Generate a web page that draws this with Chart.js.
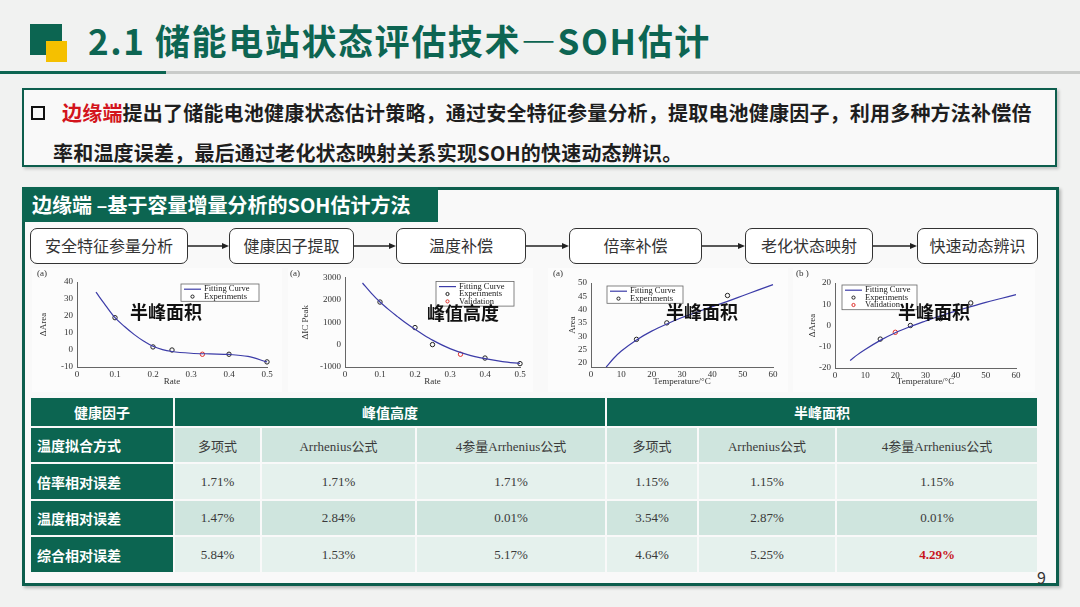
<!DOCTYPE html>
<html lang="zh-CN">
<head>
<meta charset="utf-8">
<title>2.1 储能电站状态评估技术—SOH估计</title>
<script src="https://cdn.jsdelivr.net/npm/chart.js@4.4.1/dist/chart.umd.min.js"></script>
<style>
  html, body { margin: 0; padding: 0; }
  body {
    width: 1080px; height: 607px; position: relative; overflow: hidden;
    background: #f1f2f1;
    font-family: "Noto Sans CJK SC", "Noto Sans", sans-serif;
  }
  .abs { position: absolute; }
  .title { left: 88px; top: 18px; font-size: 35px; line-height: 44px; font-weight: 700; color: #0d6552; white-space: nowrap; letter-spacing: 1.6px; }
  .textbox { left: 22px; top: 88px; width: 1031px; height: 75px; border: 2px solid #0d5e4d; background: rgba(255,255,255,0.55); box-shadow: 2px 2px 3px rgba(0,0,0,0.2); }
  .line { font-size: 20px; font-weight: 700; color: #1e1e1e; white-space: nowrap; line-height: 26px; letter-spacing: 0.2px; }
  .mainbox { left: 22px; top: 187px; width: 1031px; height: 393px; border: 3px solid #0d5e4d; background: rgba(255,255,255,0.55); box-shadow: 2px 2px 3px rgba(0,0,0,0.25); }
  .tag { left: 22px; top: 187px; width: 416px; height: 35px; background: #0c6551; color: #fff; font-size: 20px; font-weight: 700; line-height: 35px; padding-left: 10px; box-sizing: border-box; white-space: nowrap; }
  .step { top: 228px; height: 36px; border: 1.4px solid #333; border-radius: 7px; background: #fff; box-sizing: border-box; font-size: 16px; color: #333; text-align: center; line-height: 33px; }
  .panel { top: 268px; height: 124px; background: #fcfcfc; }
  .panel canvas { display: block; }
  .ptag { font-family: "Liberation Serif", serif; font-size: 9px; color: #333; }
  .plabel { font-size: 18px; font-weight: 700; color: #111; transform: translate(-50%, -50%); white-space: nowrap; }
  table.t { position: absolute; left: 29px; top: 396px; border-collapse: separate; border-spacing: 2px; table-layout: fixed; }
  table.t td { padding: 0; text-align: center; font-family: "Liberation Serif", "Noto Sans CJK SC", serif; font-size: 13px; color: #3a3a3a; }
  table.t tr.h td { background: #0c6551; color: #fff; font-family: "Noto Sans CJK SC", sans-serif; font-weight: 700; font-size: 14px; height: 28px; }
  table.t tr.a td { background: #cfe5de; height: 34px; }
  table.t tr.b td { background: #e5f1ed; height: 35px; }
  table.t tr td.k { background: #0c6551; color: #fff; font-family: "Noto Sans CJK SC", sans-serif; font-weight: 700; font-size: 14px; text-align: left; padding-left: 6px; }
  table.t tr td.red { color: #c8141c; font-weight: 700; }
  .zh { font-family: "Noto Sans CJK SC", sans-serif; }
</style>
</head>
<body>
<script>
// ---- data ----
// (a) half-peak area vs. discharge rate
const rateCurveX = [0.05, 0.075, 0.1, 0.125, 0.15, 0.175, 0.2, 0.225, 0.25, 0.3, 0.35, 0.4, 0.45, 0.5];
const areaRateCurve = [34, 26.3, 19, 13.8, 9.2, 5.3, 2.2, 0.2, -0.9, -1.9, -2.3, -2.6, -3.8, -7];
const areaRateExpX = [0.1, 0.2, 0.25, 0.4, 0.5];
const areaRateExp = [19, 1.8, 0, -2.5, -7];
const areaRateValX = [0.33];
const areaRateVal = [-2.5];

// (a) IC peak height vs. discharge rate
const peakRateCurve = [2750, 2300, 1900, 1560, 1250, 950, 680, 430, 200, -180, -450, -630, -760, -840];
const peakRateExpX = [0.1, 0.2, 0.25, 0.4, 0.5];
const peakRateExp = [1900, 760, 0, -600, -850];
const peakRateValX = [0.33];
const peakRateVal = [-430];

// (a) half-peak area vs. temperature
const tempCurveX = [5, 7.5, 10, 15, 20, 25, 30, 35, 40, 45, 50, 55, 60];
const areaTempCurve = [18.4, 21.7, 24.4, 28.6, 31.9, 34.6, 37.0, 39.1, 41.1, 43.1, 45.2, 47.3, 49.4];
const areaTempExpX = [15, 25, 45];
const areaTempExp = [28.8, 35, 45.3];

// (b) delta area vs. temperature
const dAreaTempCurve = [-16.5, -13.7, -11.3, -7.0, -3.4, -0.5, 2.1, 4.6, 6.8, 8.9, 10.9, 12.7, 14.5];
const dAreaTempExpX = [15, 25, 35, 45];
const dAreaTempExp = [-6.4, 0, 3.2, 10.6];
const dAreaTempValX = [20];
const dAreaTempVal = [-3.2];

// tick labels
const rateTicks = [0, 0.1, 0.2, 0.3, 0.4, 0.5];
const tempTicks = [0, 10, 20, 30, 40, 50, 60];
const areaRateTicks = [-10, 0, 10, 20, 30, 40];
const peakRateTicks = [-1000, 0, 1000, 2000, 3000];
const areaTempTicks = [20, 25, 30, 35, 40, 45, 50];
const dAreaTempTicks = [-20, -10, 0, 10, 20];

// flow steps and table
const flowSteps = ['安全特征参量分析', '健康因子提取', '温度补偿', '倍率补偿', '老化状态映射', '快速动态辨识'];
const fitMethods = ['多项式', 'Arrhenius公式', '4参量Arrhenius公式'];
const rateErr = ['1.71%', '1.71%', '1.71%', '1.15%', '1.15%', '1.15%'];
const tempErr = ['1.47%', '2.84%', '0.01%', '3.54%', '2.87%', '0.01%'];
const totalErr = ['5.84%', '1.53%', '5.17%', '4.64%', '5.25%', '4.29%'];
</script>

<!-- header -->
<div class="abs" style="left:30px;top:24px;width:32px;height:31px;background:#0c6551"></div>
<div class="abs" style="left:46px;top:41px;width:21px;height:21px;background:#f5c000"></div>
<div class="abs title">2.1 储能电站状态评估技术—SOH估计</div>
<div class="abs" style="left:0;top:71px;width:1080px;height:3px;background:#c9cbc9"></div>
<div class="abs" style="left:0;top:71px;width:166px;height:3px;background:#0c6551"></div>

<!-- summary text -->
<div class="abs textbox"></div>
<div class="abs" style="left:31px;top:106px;width:10px;height:10px;border:2.5px solid #111"></div>
<div class="abs line" style="left:62px;top:100px"><span style="color:#d3141c">边缘端</span>提出了储能电池健康状态估计策略，通过安全特征参量分析，提取电池健康因子，利用多种方法补偿倍</div>
<div class="abs line" style="left:53px;top:140px">率和温度误差，最后通过老化状态映射关系实现SOH的快速动态辨识。</div>

<!-- main box -->
<div class="abs mainbox"></div>
<div class="abs tag">边缘端 –基于容量增量分析的SOH估计方法</div>
<div id="flow"></div>
<svg class="abs" style="left:0;top:0" width="1080" height="607" id="arrows"></svg>

<!-- charts -->
<div class="abs panel" style="left:32px;width:250px"><canvas id="c1"></canvas></div>
<div class="abs panel" style="left:288px;width:245px"><canvas id="c2"></canvas></div>
<div class="abs panel" style="left:548px;width:240px"><canvas id="c3"></canvas></div>
<div class="abs panel" style="left:793px;width:242px"><canvas id="c4"></canvas></div>
<div class="abs ptag" style="left:37px;top:268px">(a)</div>
<div class="abs ptag" style="left:290px;top:268px">(a)</div>
<div class="abs ptag" style="left:553px;top:268px">(a)</div>
<div class="abs ptag" style="left:796px;top:268px">(b )</div>
<div class="abs plabel" style="left:166px;top:311px">半峰面积</div>
<div class="abs plabel" style="left:463px;top:312px">峰值高度</div>
<div class="abs plabel" style="left:702px;top:311px">半峰面积</div>
<div class="abs plabel" style="left:934px;top:311px">半峰面积</div>

<table class="t" id="tbl"></table>
<div class="abs" style="left:1037px;top:565px;font-size:16px;color:#333">9</div>

<script>
// flow boxes and arrows
const stepBoxes = [[30, 158], [229, 125], [396, 130], [569, 133], [745, 128], [917, 121]];
const flow = document.getElementById('flow');
flowSteps.forEach((s, i) => {
  const d = document.createElement('div');
  d.className = 'abs step';
  d.style.left = stepBoxes[i][0] + 'px';
  d.style.width = stepBoxes[i][1] + 'px';
  d.textContent = s;
  flow.appendChild(d);
});
let svg = '';
for (let i = 0; i < stepBoxes.length - 1; i++) {
  const x1 = stepBoxes[i][0] + stepBoxes[i][1];
  const x2 = stepBoxes[i + 1][0];
  svg += `<line x1="${x1}" y1="246" x2="${x2 - 6}" y2="246" stroke="#222" stroke-width="1.5"/>`;
  svg += `<polygon points="${x2},246 ${x2 - 7},243 ${x2 - 7},249" fill="#222"/>`;
}
document.getElementById('arrows').innerHTML = svg;

// table
const colW = [142, 85, 153, 188, 90, 136, 200];
let html = '<colgroup>' + colW.map(w => `<col style="width:${w}px">`).join('') + '</colgroup>';
html += '<tr class="h"><td style="text-align:center">健康因子</td><td colspan="3">峰值高度</td><td colspan="3">半峰面积</td></tr>';
const zh = s => s.replace(/([\u4e00-\u9fff]+)/g, '<span class="zh">$1</span>');
const row = (cls, key, vals, redLast) => '<tr class="' + cls + '"><td class="k">' + key + '</td>' +
  vals.map((v, i) => `<td${redLast && i === vals.length - 1 ? ' class="red"' : ''}>${zh(v)}</td>`).join('') + '</tr>';
html += row('a', '温度拟合方式', fitMethods.concat(fitMethods));
html += row('b', '倍率相对误差', rateErr);
html += row('a', '温度相对误差', tempErr);
html += row('b', '综合相对误差', totalErr, true);
document.getElementById('tbl').innerHTML = html;

// charts
Chart.defaults.font.family = '"Liberation Serif", "Times New Roman", serif';
Chart.defaults.color = '#333';
Chart.defaults.animation = false;

const curveColor = '#3c3ca8';
const expColor = '#222';
const valColor = '#e0302c';

const boxLegend = {
  id: 'boxLegend',
  afterDatasetsDraw(chart, args, opts) {
    const ctx = chart.ctx, area = chart.chartArea;
    const items = chart.data.datasets.slice(0, opts.rows);
    const rowH = 7.4;
    const h = items.length * rowH + 2.5;
    const x = opts.side === 'right' ? area.right - opts.dx - opts.width : area.left + opts.dx;
    const y = area.top + opts.dy;
    ctx.save();
    ctx.fillStyle = '#fff';
    ctx.fillRect(x, y, opts.width, h);
    ctx.strokeStyle = '#666';
    ctx.lineWidth = 0.8;
    ctx.strokeRect(x, y, opts.width, h);
    ctx.font = '8.5px "Liberation Serif", serif';
    ctx.textBaseline = 'middle';
    items.forEach((ds, i) => {
      const cy = y + 1.5 + rowH * i + rowH / 2;
      ctx.strokeStyle = ds.borderColor;
      if (ds.showLine) {
        ctx.lineWidth = 1.2;
        ctx.beginPath(); ctx.moveTo(x + 3, cy); ctx.lineTo(x + 20, cy); ctx.stroke();
      } else {
        ctx.lineWidth = 1;
        ctx.beginPath(); ctx.arc(x + 11.5, cy, 1.6, 0, Math.PI * 2); ctx.stroke();
      }
      ctx.fillStyle = '#222';
      ctx.fillText(ds.label, x + 23, cy);
    });
    ctx.restore();
  }
};

const pts = (xs, ys) => xs.map((x, i) => ({x, y: ys[i]}));
const fixTicks = list => axis => { axis.ticks = list.map(v => ({value: v})); };

function buildChart(id, c) {
  const datasets = [
    {label: 'Fitting Curve', data: pts(c.curveX, c.curveY), showLine: true, borderColor: curveColor,
     borderWidth: 1.2, pointRadius: 0, cubicInterpolationMode: 'monotone', clip: false},
    {label: 'Experiments', data: pts(c.expX, c.expY), borderColor: expColor, backgroundColor: 'rgba(0,0,0,0)',
     borderWidth: 1, pointRadius: 2.2, clip: false}
  ];
  if (c.valX) {
    datasets.push({label: 'Validation', data: pts(c.valX, c.valY), borderColor: valColor,
      backgroundColor: 'rgba(0,0,0,0)', borderWidth: 1, pointRadius: 2.2, clip: false});
  }
  const axisBase = (ticks, min, max, title, titlePad, tickPad) => ({
    type: 'linear', min, max,
    afterBuildTicks: fixTicks(ticks),
    grid: {display: false, drawTicks: false},
    border: {color: '#666', width: 1},
    ticks: {padding: tickPad, font: {size: 9}, color: '#333', callback: v => String(v), maxRotation: 0, autoSkip: false},
    title: {display: true, text: title, font: {size: 9}, color: '#333', padding: titlePad}
  });
  const x = axisBase(c.xTicks, c.xMin, c.xMax, c.xTitle, {top: 0, bottom: c.xTitlePad}, 2);
  x.afterFit = s => { s.height = c.xH; };
  const y = axisBase(c.yTicks, c.yMin, c.yMax, c.yTitle, {top: c.yTitlePad, bottom: 0}, 4);
  y.afterFit = s => { s.width = c.yW; };
  new Chart(document.getElementById(id), {
    type: 'scatter',
    data: {datasets},
    options: {
      responsive: true,
      maintainAspectRatio: false,
      layout: {padding: {top: c.padTop, right: c.padRight, bottom: 0, left: 0}},
      plugins: {legend: {display: false}, tooltip: {enabled: false}, boxLegend: c.legend},
      scales: {x, y}
    },
    plugins: [boxLegend]
  });
}

buildChart('c1', {
  curveX: rateCurveX, curveY: areaRateCurve, expX: areaRateExpX, expY: areaRateExp, valX: areaRateValX, valY: areaRateVal,
  xTicks: rateTicks, xMin: 0, xMax: 0.5, xTitle: 'Rate',
  yTicks: areaRateTicks, yMin: -10, yMax: 40, yTitle: 'ΔArea',
  yW: 45, xH: 25, padTop: 14, padRight: 15, xTitlePad: 5, yTitlePad: 6,
  legend: {side: 'right', dx: 8, dy: 2, width: 78, rows: 2}
});
buildChart('c2', {
  curveX: rateCurveX, curveY: peakRateCurve, expX: peakRateExpX, expY: peakRateExp, valX: peakRateValX, valY: peakRateVal,
  xTicks: rateTicks, xMin: 0, xMax: 0.5, xTitle: 'Rate',
  yTicks: peakRateTicks, yMin: -1000, yMax: 3000, yTitle: 'ΔIC Peak',
  yW: 57, xH: 25, padTop: 8, padRight: 13, xTitlePad: 5, yTitlePad: 12,
  legend: {side: 'right', dx: 6, dy: 4, width: 78, rows: 3}
});
buildChart('c3', {
  curveX: tempCurveX, curveY: areaTempCurve, expX: areaTempExpX, expY: areaTempExp,
  xTicks: tempTicks, xMin: 0, xMax: 60, xTitle: 'Temperature/°C',
  yTicks: areaTempTicks, yMin: 18.4, yMax: 50, yTitle: 'Area',
  yW: 43, xH: 25, padTop: 15, padRight: 15, xTitlePad: 5, yTitlePad: 19,
  legend: {side: 'left', dx: 16, dy: 3, width: 76, rows: 2}
});
buildChart('c4', {
  curveX: tempCurveX, curveY: dAreaTempCurve, expX: dAreaTempExpX, expY: dAreaTempExp, valX: dAreaTempValX, valY: dAreaTempVal,
  xTicks: tempTicks, xMin: 0, xMax: 60, xTitle: 'Temperature/°C',
  yTicks: dAreaTempTicks, yMin: -20, yMax: 20, yTitle: 'ΔArea',
  yW: 42, xH: 24, padTop: 15, padRight: 19, xTitlePad: 5, yTitlePad: 14,
  legend: {side: 'left', dx: 7, dy: 2, width: 75, rows: 3}
});
</script>
</body>
</html>
